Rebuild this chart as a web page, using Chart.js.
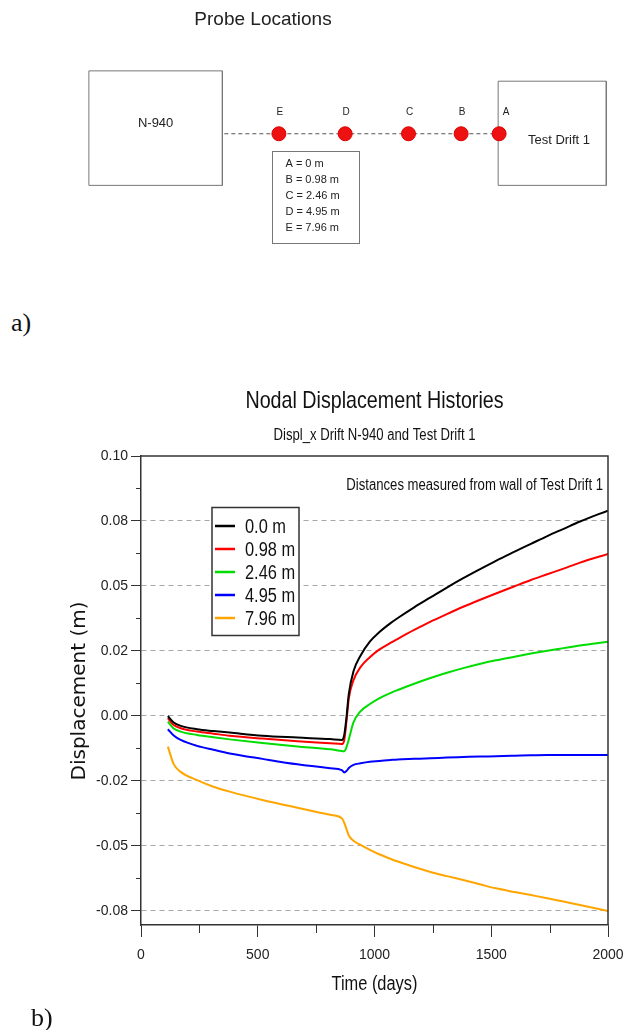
<!DOCTYPE html>
<html>
<head>
<meta charset="utf-8">
<script src="https://cdn.jsdelivr.net/npm/chart.js@4.4.0/dist/chart.umd.min.js"></script>
<style>
  body { margin: 0; background: #fff; width: 626px; height: 1030px; position: relative; overflow: hidden; }
  canvas { position: absolute; left: 0; }
  #probes { top: 0; }
  #history { top: 370px; }
  .part { position: absolute; font-family: "Liberation Serif", "Times New Roman", serif; font-size: 26px; line-height: 26px; color: #111; }
</style>
</head>
<body>
<canvas id="probes" width="626" height="260"></canvas>
<div class="part" style="left:11px; top:310px;">a)</div>
<canvas id="history" width="626" height="660"></canvas>
<div class="part" style="left:31px; top:1005px;">b)</div>

<script>
// ---- probe sketch (schematic units, not to scale) ----
const probeNames = ["A", "B", "C", "D", "E"];
const probeDist = [0, 0.98, 2.46, 4.95, 7.96];
const probeX = [504, 465, 411, 346, 278];
const probeY = 134;
const lineStartX = 222;
const driftNames = ["N-940", "Test Drift 1"];
const driftLeft = [83, 503];
const driftRight = [220, 614];
const driftTop = [67, 78];
const driftBottom = [189, 189];

// ---- displacement histories ----
const days = [115, 140, 170, 240, 310, 380, 520, 670, 810, 860, 870, 880, 890, 910, 940, 980,
  1020, 1070, 1100, 1170, 1240, 1310, 1380, 1450, 1520, 1600, 1670, 1740, 1810, 1880, 2000];
const disp000 = [0.0000, -0.0025, -0.0038, -0.0051, -0.0058, -0.0064, -0.0076, -0.0083, -0.0089, -0.0092, -0.0075, -0.0005, 0.0085, 0.0172, 0.0232, 0.0286,
  0.0322, 0.0358, 0.0377, 0.0418, 0.0456, 0.0494, 0.0530, 0.0564, 0.0597, 0.0632, 0.0662, 0.0692, 0.0720, 0.0748, 0.0790];
const disp098 = [-0.0008, -0.0035, -0.0047, -0.0060, -0.0068, -0.0076, -0.0087, -0.0097, -0.0105, -0.0108, -0.0095, -0.0020, 0.0068, 0.0138, 0.0188, 0.0226,
  0.0255, 0.0282, 0.0297, 0.0331, 0.0363, 0.0392, 0.0420, 0.0446, 0.0471, 0.0499, 0.0523, 0.0545, 0.0567, 0.0590, 0.0623];
const disp246 = [-0.0022, -0.0048, -0.0060, -0.0073, -0.0082, -0.0090, -0.0104, -0.0117, -0.0128, -0.0135, -0.0136, -0.0120, -0.0090, -0.0025, 0.0018, 0.0046,
  0.0068, 0.0089, 0.0100, 0.0124, 0.0146, 0.0166, 0.0184, 0.0200, 0.0214, 0.0228, 0.0240, 0.0251, 0.0261, 0.0271, 0.0286];
const disp495 = [-0.0051, -0.0075, -0.0092, -0.0115, -0.0130, -0.0144, -0.0165, -0.0186, -0.0201, -0.0208, -0.0217, -0.0212, -0.0200, -0.0188, -0.0182, -0.0176,
  -0.0173, -0.0169, -0.0167, -0.0165, -0.0163, -0.0160, -0.0158, -0.0156, -0.0155, -0.0153, -0.0151, -0.0150, -0.0150, -0.0150, -0.0150];
const disp796 = [-0.0118, -0.0185, -0.0215, -0.0247, -0.0272, -0.0291, -0.0323, -0.0353, -0.0380, -0.0393, -0.0410, -0.0435, -0.0460, -0.0480, -0.0496, -0.0515,
  -0.0532, -0.0550, -0.0560, -0.0581, -0.0600, -0.0616, -0.0631, -0.0647, -0.0663, -0.0677, -0.0689, -0.0701, -0.0714, -0.0727, -0.0750];

const seriesLabels = ["0.0 m", "0.98 m", "2.46 m", "4.95 m", "7.96 m"];
const seriesColors = ["#000000", "#ff0000", "#00dd00", "#0000ff", "#ffa500"];
const series = [disp000, disp098, disp246, disp495, disp796];

const yMajor = [-0.075, -0.05, -0.025, 0, 0.025, 0.05, 0.075, 0.1];
const yMajorLabels = ["-0.08", "-0.05", "-0.02", "0.00", "0.02", "0.05", "0.08", "0.10"];
const yMinor = [-0.0625, -0.0375, -0.0125, 0.0125, 0.0375, 0.0625, 0.0875];
const xMajor = [0, 500, 1000, 1500, 2000];
const xMinor = [250, 750, 1250, 1750];

const sans = "'Liberation Sans', Arial, sans-serif";

// texte resserré (la police d'origine est étroite)
function narrowText(ctx, text, x, y, align) {
  ctx.save();
  ctx.translate(x, y);
  ctx.scale(0.82, 1);
  ctx.textAlign = align;
  ctx.fillText(text, 0, 0);
  ctx.restore();
}

// texte et cadres du croquis
const sketchText = {
  id: "sketchText",
  afterDraw(chart) {
    const { ctx, scales: { x, y } } = chart;
    ctx.save();
    ctx.fillStyle = "#222";
    ctx.textAlign = "center";
    ctx.textBaseline = "alphabetic";
    ctx.font = "19px " + sans;
    ctx.fillText("Probe Locations", 263, 25);

    ctx.textBaseline = "middle";
    ctx.font = "13px " + sans;
    driftNames.forEach((name, i) => {
      const cx = i === 0 ? (x.getPixelForValue(driftLeft[i]) + x.getPixelForValue(driftRight[i])) / 2 : 559;
      const cy = i === 0 ? 123 : 140;
      ctx.fillText(name, cx, cy);
    });

    ctx.font = "10px " + sans;
    probeNames.forEach((n, i) => {
      ctx.fillText(n, x.getPixelForValue(probeX[i]) + (i === 0 ? 7 : 1), y.getPixelForValue(probeY) - 22);
    });

    // boîte des distances
    ctx.strokeStyle = "#777";
    ctx.lineWidth = 1;
    ctx.fillStyle = "#fff";
    ctx.fillRect(272.5, 151.5, 87, 92);
    ctx.strokeRect(272.5, 151.5, 87, 92);
    ctx.fillStyle = "#222";
    ctx.textAlign = "left";
    ctx.font = "11px " + sans;
    probeNames.forEach((n, i) => {
      ctx.fillText(n + " = " + probeDist[i] + " m", 285.5, 163.5 + 16 * i);
    });
    ctx.restore();
  }
};

const boxData = (i) => [
  { x: driftLeft[i], y: driftTop[i] }, { x: driftRight[i], y: driftTop[i] },
  { x: driftRight[i], y: driftBottom[i] }, { x: driftLeft[i], y: driftBottom[i] },
  { x: driftLeft[i], y: driftTop[i] }
];

new Chart(document.getElementById("probes"), {
  type: "scatter",
  data: {
    datasets: [
      {
        data: probeX.map((px) => ({ x: px, y: probeY })),
        pointRadius: 7,
        backgroundColor: "#ee1111",
        borderColor: "#dd0000",
        borderWidth: 1
      },
      {
        data: [{ x: lineStartX, y: probeY }, { x: probeX[0], y: probeY }],
        showLine: true,
        pointRadius: 0,
        borderColor: "#555",
        borderWidth: 1.2,
        borderDash: [4, 3]
      },
      { data: boxData(0), showLine: true, pointRadius: 0, borderColor: "#777", borderWidth: 1 },
      { data: boxData(1), showLine: true, pointRadius: 0, borderColor: "#777", borderWidth: 1 }
    ]
  },
  options: {
    responsive: false,
    animation: false,
    events: [],
    layout: { padding: 0 },
    plugins: { legend: { display: false }, tooltip: { enabled: false } },
    scales: {
      x: { type: "linear", min: 0, max: 626, display: false },
      y: { type: "linear", min: 0, max: 260, reverse: true, display: false }
    }
  },
  plugins: [sketchText]
});

// titres, cadre, petites graduations et légende du graphique
const decorations = {
  id: "decorations",
  afterDraw(chart) {
    const { ctx, chartArea: a, scales: { x, y } } = chart;
    ctx.save();
    // cadre haut et droit
    ctx.strokeStyle = "#333";
    ctx.lineWidth = 1.5;
    ctx.beginPath();
    ctx.moveTo(a.left, a.top);
    ctx.lineTo(a.right, a.top);
    ctx.lineTo(a.right, a.bottom);
    ctx.stroke();

    // petites graduations
    ctx.lineWidth = 1;
    ctx.beginPath();
    yMinor.forEach((v) => {
      const py = Math.round(y.getPixelForValue(v)) + 0.5;
      ctx.moveTo(a.left - 5, py);
      ctx.lineTo(a.left, py);
    });
    xMinor.forEach((v) => {
      const px = Math.round(x.getPixelForValue(v)) + 0.5;
      ctx.moveTo(px, a.bottom);
      ctx.lineTo(px, a.bottom + 8);
    });
    ctx.stroke();

    // titres
    ctx.fillStyle = "#111";
    ctx.textBaseline = "alphabetic";
    const cx = (a.left + a.right) / 2;
    ctx.font = "24px " + sans;
    narrowText(ctx, "Nodal Displacement Histories", cx, 38, "center");
    ctx.font = "16px " + sans;
    narrowText(ctx, "Displ_x Drift N-940 and Test Drift 1", cx, 70, "center");
    narrowText(ctx, "Distances measured from wall of Test Drift 1", a.right - 5, 120, "right");

    // titres des axes
    ctx.font = "20px " + sans;
    narrowText(ctx, "Time (days)", cx, 620, "center");
    ctx.save();
    ctx.translate(80, 321);
    ctx.rotate(-Math.PI / 2);
    ctx.textAlign = "center";
    ctx.textBaseline = "middle";
    ctx.font = "20px 'DejaVu Sans', sans-serif";
    ctx.fillText("Displacement (m)", 0, 0);
    ctx.restore();

    // légende
    ctx.fillStyle = "#fff";
    ctx.fillRect(212, 137.5, 87, 128);
    ctx.strokeStyle = "#333";
    ctx.lineWidth = 1.5;
    ctx.strokeRect(212, 137.5, 87, 128);
    ctx.textBaseline = "middle";
    ctx.font = "20px " + sans;
    chart.data.datasets.forEach((ds, i) => {
      const ly = 156 + 23 * i;
      ctx.strokeStyle = ds.borderColor;
      ctx.lineWidth = 2.5;
      ctx.beginPath();
      ctx.moveTo(215, ly);
      ctx.lineTo(235, ly);
      ctx.stroke();
      ctx.fillStyle = "#111";
      narrowText(ctx, ds.label, 245, ly + 1, "left");
    });
    ctx.restore();
  }
};

new Chart(document.getElementById("history"), {
  type: "line",
  data: {
    datasets: series.map((vals, i) => ({
      label: seriesLabels[i],
      data: days.map((d, j) => ({ x: d, y: vals[j] })),
      borderColor: seriesColors[i],
      borderWidth: 2,
      pointRadius: 0,
      cubicInterpolationMode: "monotone",
      fill: false
    }))
  },
  options: {
    responsive: false,
    animation: false,
    events: [],
    layout: { padding: { top: 86, right: 18, left: 0, bottom: 0 } },
    plugins: { legend: { display: false }, tooltip: { enabled: false } },
    scales: {
      x: {
        type: "linear",
        min: 0,
        max: 2000,
        afterBuildTicks: (s) => { s.ticks = xMajor.map((v) => ({ value: v })); },
        afterFit: (s) => {
          s.height = 105;
          s.paddingLeft = 0;
          s.paddingRight = 0;
        },
        grid: { drawOnChartArea: false, tickLength: 12, tickColor: "#333", tickWidth: 1 },
        border: { color: "#333", width: 1.5 },
        ticks: {
          font: { family: sans, size: 14 },
          color: "#222",
          padding: 10,
          maxRotation: 0,
          autoSkip: false,
          callback: (v) => String(v)
        }
      },
      y: {
        type: "linear",
        min: -0.0804,
        max: 0.1,
        afterBuildTicks: (s) => { s.ticks = yMajor.map((v) => ({ value: v })); },
        afterFit: (s) => { s.width = 141; },
        grid: {
          color: (c) => (c.tick && c.tick.value === 0.1 ? "rgba(0,0,0,0)" : "#a8a8a8"),
          lineWidth: 1,
          tickLength: 10,
          tickColor: "#333"
        },
        border: { color: "#333", width: 1.5, dash: [5, 4] },
        ticks: {
          font: { family: sans, size: 14 },
          color: "#222",
          padding: 3,
          autoSkip: false,
          callback: (v) => yMajorLabels[yMajor.indexOf(v)]
        }
      }
    }
  },
  plugins: [decorations]
});
</script>
</body>
</html>
